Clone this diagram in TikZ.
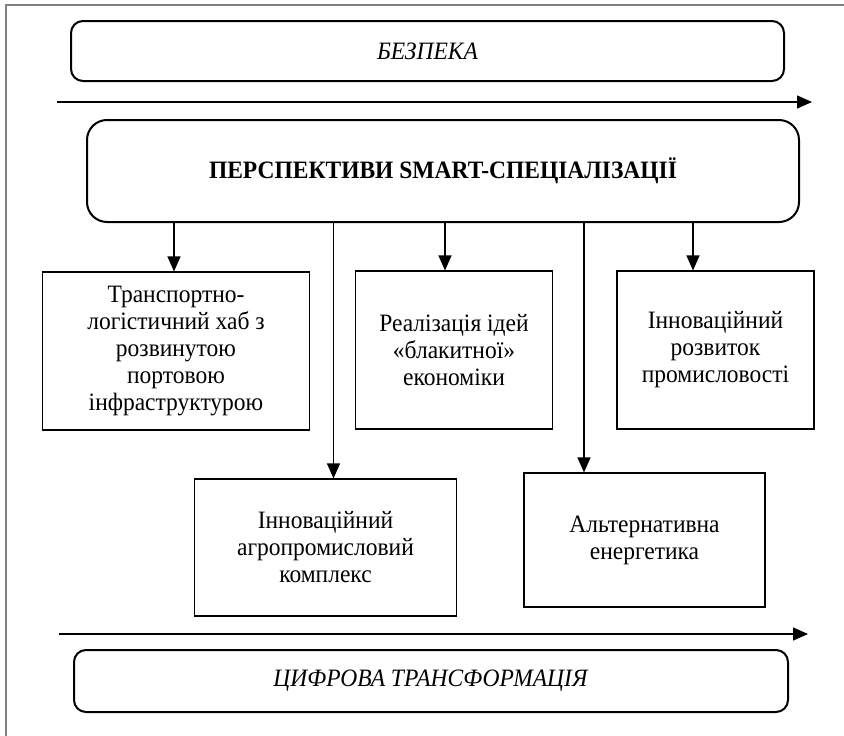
\documentclass[tikz,border=0pt]{standalone}
\usepackage{fontspec}
\setmainfont[FakeStretch=0.94]{Liberation Serif}
\usepackage{tikz}
\usetikzlibrary{positioning, arrows.meta, calc}
\tikzset{>={Triangle[length=15pt,width=13pt]}}

\begin{document}
\begin{tikzpicture}[x=1pt, y=-1pt, every node/.style={font=\fontsize{25}{27}\selectfont, align=center},
  band/.style={draw, line width=2pt, rounded corners=12pt, minimum width=713pt, minimum height=60pt},
  item/.style={draw, line width=1.1pt, inner sep=2pt},
  arr/.style={->, line width=1.1pt}]
\useasboundingbox (0,0) rectangle (844,736);
\draw[gray, line width=1.5pt] (844,5) -- (6,5) -- (6,736);
\node[band] (safety) at (427.5,51) {\textit{БЕЗПЕКА}};
\node[band, minimum width=714pt, minimum height=62pt] (digital) at (431,681) {\textit{ЦИФРОВА ТРАНСФОРМАЦІЯ}};
\node[band, rounded corners=20pt, minimum width=712pt, minimum height=102pt] (smart) at (443,171) {\textbf{ПЕРСПЕКТИВИ SMART-СПЕЦІАЛІЗАЦІЇ}};
\node[item, minimum width=267pt, minimum height=158pt] (hub) at (176,351) {Транспортно-\\логістичний хаб з\\розвинутою\\портовою\\інфраструктурою};
\node[item, minimum width=197pt, minimum height=158pt] (blue) at (454,350) {Реалізація ідей\\«блакитної»\\економіки};
\node[item, minimum width=197pt, minimum height=158pt] (industry) at (715.5,350) {Інноваційний\\розвиток\\промисловості};
\node[item, minimum width=262pt, minimum height=137pt] (agro) at (325.5,547.5) {Інноваційний\\агропромисловий\\комплекс};
\node[item, minimum width=241pt, minimum height=134pt] (energy) at (644.5,540) {Альтернативна\\енергетика};
% time axes
\coordinate (s1) at (57,102); \coordinate (e1) at (812,102);
\coordinate (s2) at (59,634); \coordinate (e2) at (808,634);
\draw[arr, line width=1.4pt] (s1) -- (e1);
\draw[arr, line width=1.4pt] (s2) -- (e2);
% branches
\draw[arr] ([xshift=-2pt]hub.north |- smart.south) -- ([xshift=-2pt]hub.north);
\draw[arr] ([xshift=-9pt]blue.north |- smart.south) -- ([xshift=-9pt]blue.north);
\draw[arr] ([xshift=-22.5pt]industry.north |- smart.south) -- ([xshift=-22.5pt]industry.north);
\draw[arr] ([xshift=8pt]agro.north |- smart.south) -- ([xshift=8pt]agro.north);
\draw[arr] ([xshift=-60.5pt]energy.north |- smart.south) -- ([xshift=-60.5pt]energy.north);
\end{tikzpicture}
\end{document}
